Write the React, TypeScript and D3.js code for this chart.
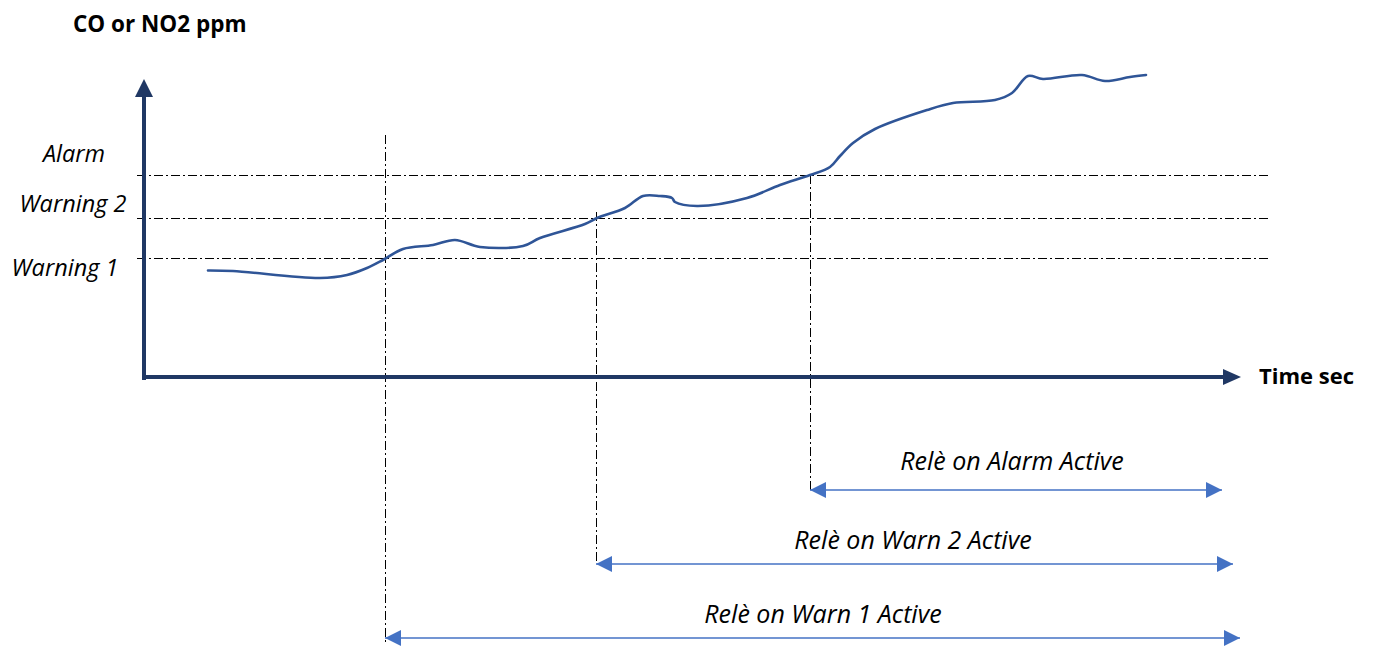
import React from "react";
import * as d3 from "d3";

// gas concentration trace (time in sec, ppm)
const timeSec = [64, 89, 176, 203, 223, 239, 259, 289, 311, 336, 379, 396, 441, 453, 481, 499, 516, 528, 531, 553, 603, 636, 666, 686, 696, 709, 731, 783, 809, 851, 868, 884, 899, 938, 961, 986, 1002];
const ppmValues = [106.5, 106, 99, 102, 109, 117, 128, 132, 137, 130, 131, 139, 153, 159, 169, 181, 181, 179, 175, 171, 179, 192, 202, 210, 221, 234, 248, 267, 274, 277, 284, 301, 298, 302, 296, 300, 302];

const levelNames = ["Warning 1", "Warning 2", "Alarm"];
const levelPpm = [119, 159, 202];
const triggerSec = [241, 452, 666];
const relayLabels = ["Relè on Warn 1 Active", "Relè on Warn 2 Active", "Relè on Alarm Active"];

const W = 1373, H = 646;
const navy = "#203864";
const curveBlue = "#2f5597";
const arrowBlue = "#4472c4";
const dashDot = "9,3,2,3";
const font = "'Open Sans', 'Liberation Sans', sans-serif";

export default function App() {
  const x = d3.scaleLinear().domain([0, 1100]).range([144, 1244]);
  const y = d3.scaleLinear().domain([0, 300]).range([377, 77]);

  const pts: [number, number][] = timeSec.map((t, i) => [t, ppmValues[i]]);
  const line = d3.line<[number, number]>()
    .x(d => x(d[0]))
    .y(d => y(d[1]))
    .curve(d3.curveCatmullRom.alpha(0.5));

  // per relay: vertical line top, arrow row, arrow end, label anchor
  const relayRows = [
    { top: 135, row: 638, end: 1240, labelY: 623, labelX: 823 },
    { top: 212, row: 564, end: 1233, labelY: 549, labelX: 913 },
    { top: 175, row: 490, end: 1222, labelY: 470, labelX: 1012 },
  ];
  const labelPos = [
    { x: 65, y: 276 },
    { x: 73, y: 212 },
    { x: 74, y: 162 },
  ];

  const x0 = x(0), y0 = y(0);

  return (
    <svg width={W} height={H} style={{ position: "absolute", left: 0, top: 0, background: "#fff" }}>
      <defs>
        <marker id="bh" viewBox="0 0 16 16" refX="16" refY="8" markerWidth="16" markerHeight="16" markerUnits="userSpaceOnUse" orient="auto-start-reverse">
          <path d="M0,0 L16,8 L0,16 Z" fill={arrowBlue} />
        </marker>
      </defs>

      {/* threshold lines */}
      {levelPpm.map((v, i) => (
        <line key={"h" + i} x1={137} x2={1270} y1={Math.round(y(v)) + 0.5} y2={Math.round(y(v)) + 0.5}
          stroke="#000" strokeWidth={1} strokeDasharray={dashDot} />
      ))}

      {/* trigger verticals */}
      {triggerSec.map((t, i) => (
        <line key={"v" + i} x1={Math.round(x(t)) + 0.5} x2={Math.round(x(t)) + 0.5} y1={relayRows[i].top}
          y2={i === 0 ? 645 : relayRows[i].row}
          stroke="#000" strokeWidth={1} strokeDasharray={dashDot} />
      ))}

      {/* axes */}
      <line x1={x0} x2={x0} y1={380} y2={92} stroke={navy} strokeWidth={4} />
      <path d={`M${x0 - 9},97 L${x0},79 L${x0 + 9},97 Z`} fill={navy} />
      <line x1={x0 - 2} x2={1226} y1={y0} y2={y0} stroke={navy} strokeWidth={4} />
      <path d={`M1223,${y0 - 8} L1241,${y0} L1223,${y0 + 8} Z`} fill={navy} />

      {/* trace */}
      <path d={line(pts) || ""} fill="none" stroke={curveBlue} strokeWidth={2.6} strokeLinejoin="round" strokeLinecap="round" />

      {/* level labels */}
      {levelNames.map((n, i) => (
        <text key={"l" + i} x={labelPos[i].x} y={labelPos[i].y} textAnchor="middle" fontFamily={font}
          fontStyle="italic" fontSize={23.5} fill="#000">{n}</text>
      ))}

      {/* relay arrows */}
      {triggerSec.map((t, i) => (
        <g key={"r" + i}>
          <line x1={x(t)} x2={relayRows[i].end} y1={relayRows[i].row} y2={relayRows[i].row}
            stroke={arrowBlue} strokeWidth={1.5} markerStart="url(#bh)" markerEnd="url(#bh)" />
          <text x={relayRows[i].labelX} y={relayRows[i].labelY} textAnchor="middle" fontFamily={font}
            fontStyle="italic" fontSize={25} fill="#000">{relayLabels[i]}</text>
        </g>
      ))}

      <text x={73} y={32} fontFamily={font} fontWeight="bold" fontSize={22.5} fill="#000">CO or NO2 ppm</text>
      <text x={1259} y={384} fontFamily={font} fontWeight="bold" fontSize={22} fill="#000">Time sec</text>
    </svg>
  );
}
